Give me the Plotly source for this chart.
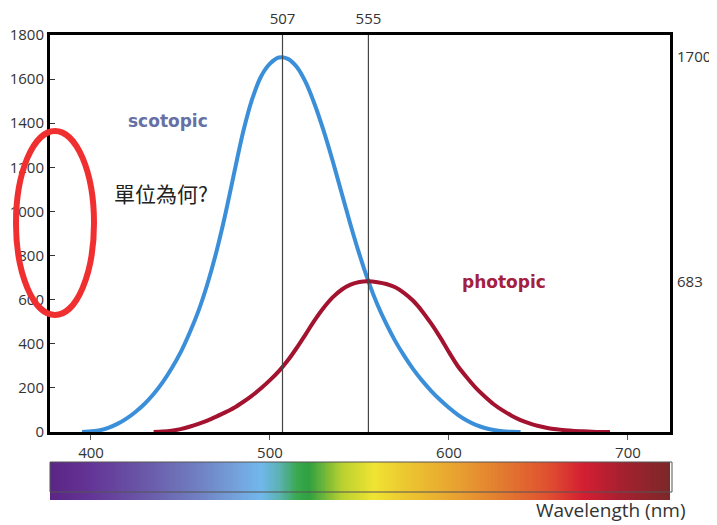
import plotly.graph_objects as go

# ---- data ----
scot_wl = [395, 400, 405, 410, 415, 420, 425, 430, 435, 440, 445, 450, 455, 460, 465,
           470, 475, 480, 485, 490, 495, 500, 505, 510, 515, 520, 525, 530, 535, 540,
           545, 550, 555, 560, 565, 570, 575, 580, 585, 590, 595, 600, 605, 610, 615,
           620, 625, 630, 635, 640]
scot_v = [0, 3, 8, 20, 38, 62, 92, 128, 172, 225, 288, 360, 448, 548, 670,
          815, 985, 1175, 1360, 1508, 1612, 1670, 1698, 1692, 1655, 1585, 1485, 1365, 1230, 1085,
          940, 805, 683, 578, 490, 412, 345, 285, 233, 187, 146, 110, 78, 52, 32,
          18, 9, 3, 1, 0]

phot_wl = [435, 440, 445, 450, 455, 460, 465, 470, 475, 480, 485, 490, 495, 500, 505,
           510, 515, 520, 525, 530, 535, 540, 545, 550, 555, 560, 565, 570, 575, 580,
           585, 590, 595, 600, 605, 610, 615, 620, 625, 630, 635, 640, 645, 650, 655,
           660, 665, 670, 675, 680, 685, 690]
phot_v = [0, 2, 6, 13, 24, 37, 52, 70, 89, 110, 136, 165, 198, 235, 276,
          325, 382, 444, 507, 563, 610, 645, 668, 680, 683, 679, 671, 656, 630, 595,
          548, 492, 430, 362, 298, 247, 200, 161, 126, 98, 74, 54, 39, 27, 18,
          12, 8, 5, 3, 1, 0, 0]

peak_wl = [507, 555]
peak_v = [1700, 683]

x_ticks = [400, 500, 600, 700]
y_ticks = [0, 200, 400, 600, 800, 1000, 1200, 1400, 1600, 1800]

spec_wl = list(range(377, 725))

# ---- layout geometry (pixels, as seen in the 717x525 window) ----
# the page body has a default 8px margin, so the figure is drawn 8px smaller
OFF = 8
W, H = 717 - OFF, 525 - OFF
L, R, T, B = 50 - OFF, 47, 35 - OFF, 33 - OFF
PW, PH = W - L - R, H - T - B
X_RANGE = [377.1, 723.5]


def px(x):
    return (x - OFF - L) / PW


def py(y):
    return (H - B - (y - OFF)) / PH


main_dom = [py(432), 1.0]
bar_dom = [0.0, py(462)]

spectrum_scale = [
    [377, "#5b2585"], [400, "#633596"], [430, "#6a58a8"], [460, "#7080c2"],
    [480, "#74a0da"], [495, "#70b8ec"], [505, "#5cb2b4"], [515, "#3aa850"],
    [522, "#30a040"], [540, "#b8d030"], [558, "#f0e432"], [575, "#ecc830"],
    [605, "#e8a030"], [630, "#e27a30"], [655, "#e05030"], [675, "#d41e32"],
    [695, "#a82030"], [724, "#7a2828"],
]
cs = [[(w - 377) / (724 - 377), c] for w, c in spectrum_scale]

fig = go.Figure()

fig.add_trace(go.Heatmap(
    x=spec_wl, y=[0], z=[spec_wl], colorscale=cs, zmin=377, zmax=724,
    showscale=False, xaxis="x", yaxis="y3", hoverinfo="skip"))

fig.add_trace(go.Scatter(
    x=scot_wl, y=scot_v, mode="lines", line=dict(color="#3b8fd9", width=4, shape="spline", smoothing=0.8),
    xaxis="x", yaxis="y", showlegend=False))
fig.add_trace(go.Scatter(
    x=phot_wl, y=phot_v, mode="lines", line=dict(color="#a3122f", width=4, shape="spline", smoothing=0.8),
    xaxis="x", yaxis="y", showlegend=False))

# vertical reference lines on the top/right axes
fig.add_trace(go.Scatter(
    x=[peak_wl[0], peak_wl[0], None, peak_wl[1], peak_wl[1]],
    y=[0, 1800, None, 0, 1800], mode="lines",
    line=dict(color="#444444", width=1.2), xaxis="x2", yaxis="y2",
    showlegend=False, hoverinfo="skip"))
fig.add_trace(go.Scatter(
    x=peak_wl, y=peak_v, mode="markers", marker=dict(opacity=0),
    xaxis="x2", yaxis="y2", showlegend=False, hoverinfo="skip"))

tick_font = dict(family="Open Sans, sans-serif", size=15, color="#333333")

fig.update_layout(
    width=W, height=H, margin=dict(l=L, r=R, t=T, b=B, autoexpand=False),
    paper_bgcolor="white", plot_bgcolor="white",
    xaxis=dict(range=X_RANGE, anchor="y", tickvals=x_ticks, ticks="outside", ticklen=5,
               tickcolor="#555", tickfont=tick_font, showline=True, linewidth=3,
               linecolor="black", mirror=True, showgrid=False, zeroline=False,
               automargin=False),
    yaxis=dict(range=[0, 1800], domain=main_dom, anchor="x", tickvals=y_ticks,
               ticks="inside", ticklen=5, tickcolor="#333", tickfont=tick_font,
               showline=True, linewidth=3, linecolor="black", mirror=True,
               showgrid=False, zeroline=False, ticklabelstandoff=0, automargin=False),
    xaxis2=dict(range=X_RANGE, overlaying="x", side="top", anchor="y",
                tickvals=peak_wl, ticks="", tickfont=tick_font, showgrid=False,
                zeroline=False, showline=False, ticklabelstandoff=7, automargin=False),
    yaxis2=dict(range=[0, 1800], overlaying="y", side="right", anchor="x",
                tickvals=peak_v, ticks="", tickfont=tick_font, showgrid=False,
                zeroline=False, showline=False, ticklabelstandoff=6, automargin=False),
    yaxis3=dict(domain=bar_dom, anchor="x", showticklabels=False, ticks="",
                showgrid=False, zeroline=False, showline=False, automargin=False),
    showlegend=False,
)

fig.add_shape(type="rect", xref="paper", yref="paper", x0=px(50), x1=px(672),
              y0=py(492), y1=py(462), line=dict(color="#555555", width=1))

fig.add_shape(type="circle", xref="paper", yref="paper",
              x0=px(16), x1=px(94), y0=py(315), y1=py(131),
              line=dict(color="#f03030", width=6))

fig.add_annotation(x=443, y=1410, xref="x", yref="y", text="<b>scotopic</b>",
                   showarrow=False, font=dict(family="DejaVu Sans", size=17, color="#6670a4"))
fig.add_annotation(x=630.7, y=680, xref="x", yref="y", text="<b>photopic</b>",
                   showarrow=False, font=dict(family="DejaVu Sans", size=17, color="#a3203f"))
fig.add_annotation(x=439, y=1084, xref="x", yref="y", text="單位為何?",
                   showarrow=False, font=dict(family="Noto Sans CJK TC", size=21, color="#222222"))
fig.add_annotation(x=px(688), y=py(510), xref="paper", yref="paper", text="Wavelength (nm)",
                   xanchor="right", yanchor="middle", showarrow=False,
                   font=dict(family="Open Sans, sans-serif", size=19, color="#333333"))

fig.write_html("out.html")
